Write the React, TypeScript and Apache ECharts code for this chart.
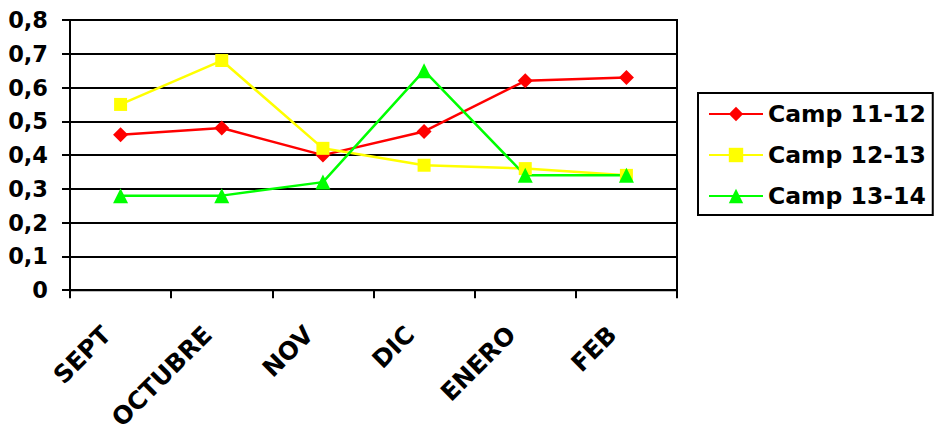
import React, { useEffect, useRef } from "react";
import * as echarts from "echarts";

const categories = ["SEPT", "OCTUBRE", "NOV", "DIC", "ENERO", "FEB"];
const camp1112 = [0.46, 0.48, 0.4, 0.47, 0.62, 0.63];
const camp1213 = [0.55, 0.68, 0.42, 0.37, 0.36, 0.34];
const camp1314 = [0.28, 0.28, 0.32, 0.65, 0.34, 0.34];
const seriesNames = ["Camp 11-12", "Camp 12-13", "Camp 13-14"];

const FONT = "DejaVu Sans";

export default function App() {
  const ref = useRef<HTMLDivElement>(null);
  useEffect(() => {
    if (!ref.current) return;
    const chart = echarts.init(ref.current, undefined, { renderer: "svg" });
    chart.setOption({
      animation: false,
      backgroundColor: "#ffffff",
      grid: {
        left: 70,
        right: 257,
        top: 20,
        bottom: 142,
        show: true,
        borderColor: "#000",
        borderWidth: 2,
        backgroundColor: "transparent",
      },
      legend: {
        orient: "vertical",
        left: 698,
        top: 93,
        borderColor: "#000",
        borderWidth: 2,
        borderRadius: 0,
        padding: [8, 7, 6, 10],
        itemWidth: 54,
        itemHeight: 18,
        itemGap: 15,
        textStyle: {
          fontFamily: FONT,
          fontWeight: "bold",
          fontSize: 23.5,
          color: "#000",
          lineHeight: 26,
        },
        data: seriesNames,
      },
      xAxis: {
        type: "category",
        data: categories,
        boundaryGap: true,
        axisLine: { lineStyle: { color: "#000", width: 2 } },
        axisTick: { show: true, length: 8, lineStyle: { color: "#000", width: 2 } },
        axisLabel: {
          rotate: 45,
          interval: 0,
          margin: 26,
          padding: [0, 20, 0, 0],
          fontFamily: FONT,
          fontWeight: "bold",
          fontSize: 24.5,
          color: "#000",
        },
      },
      yAxis: {
        type: "value",
        min: 0,
        max: 0.8,
        interval: 0.1,
        axisLine: { show: true, lineStyle: { color: "#000", width: 2 } },
        axisTick: { show: true, length: 8, lineStyle: { color: "#000", width: 2 } },
        splitLine: { show: true, lineStyle: { color: "#000", width: 2 } },
        axisLabel: {
          margin: 22,
          fontFamily: FONT,
          fontWeight: "bold",
          fontSize: 22.5,
          color: "#000",
          formatter: (v: number) => (v === 0 ? "0" : v.toFixed(1).replace(".", ",")),
        },
      },
      series: [
        {
          name: seriesNames[0],
          type: "line",
          data: camp1112,
          symbol: "diamond",
          symbolSize: 15,
          itemStyle: { color: "#FF0000" },
          lineStyle: { color: "#FF0000", width: 2.5 },
        },
        {
          name: seriesNames[1],
          type: "line",
          data: camp1213,
          symbol: "rect",
          symbolSize: 13,
          itemStyle: { color: "#FFFF00" },
          lineStyle: { color: "#FFFF00", width: 2.5 },
        },
        {
          name: seriesNames[2],
          type: "line",
          data: camp1314,
          symbol: "triangle",
          symbolSize: 15,
          itemStyle: { color: "#00FF00" },
          lineStyle: { color: "#00FF00", width: 2.5 },
        },
      ],
    });
    return () => chart.dispose();
  }, []);
  return (
    <div
      ref={ref}
      style={{ position: "fixed", left: 0, top: 0, width: 934, height: 433 }}
    />
  );
}
